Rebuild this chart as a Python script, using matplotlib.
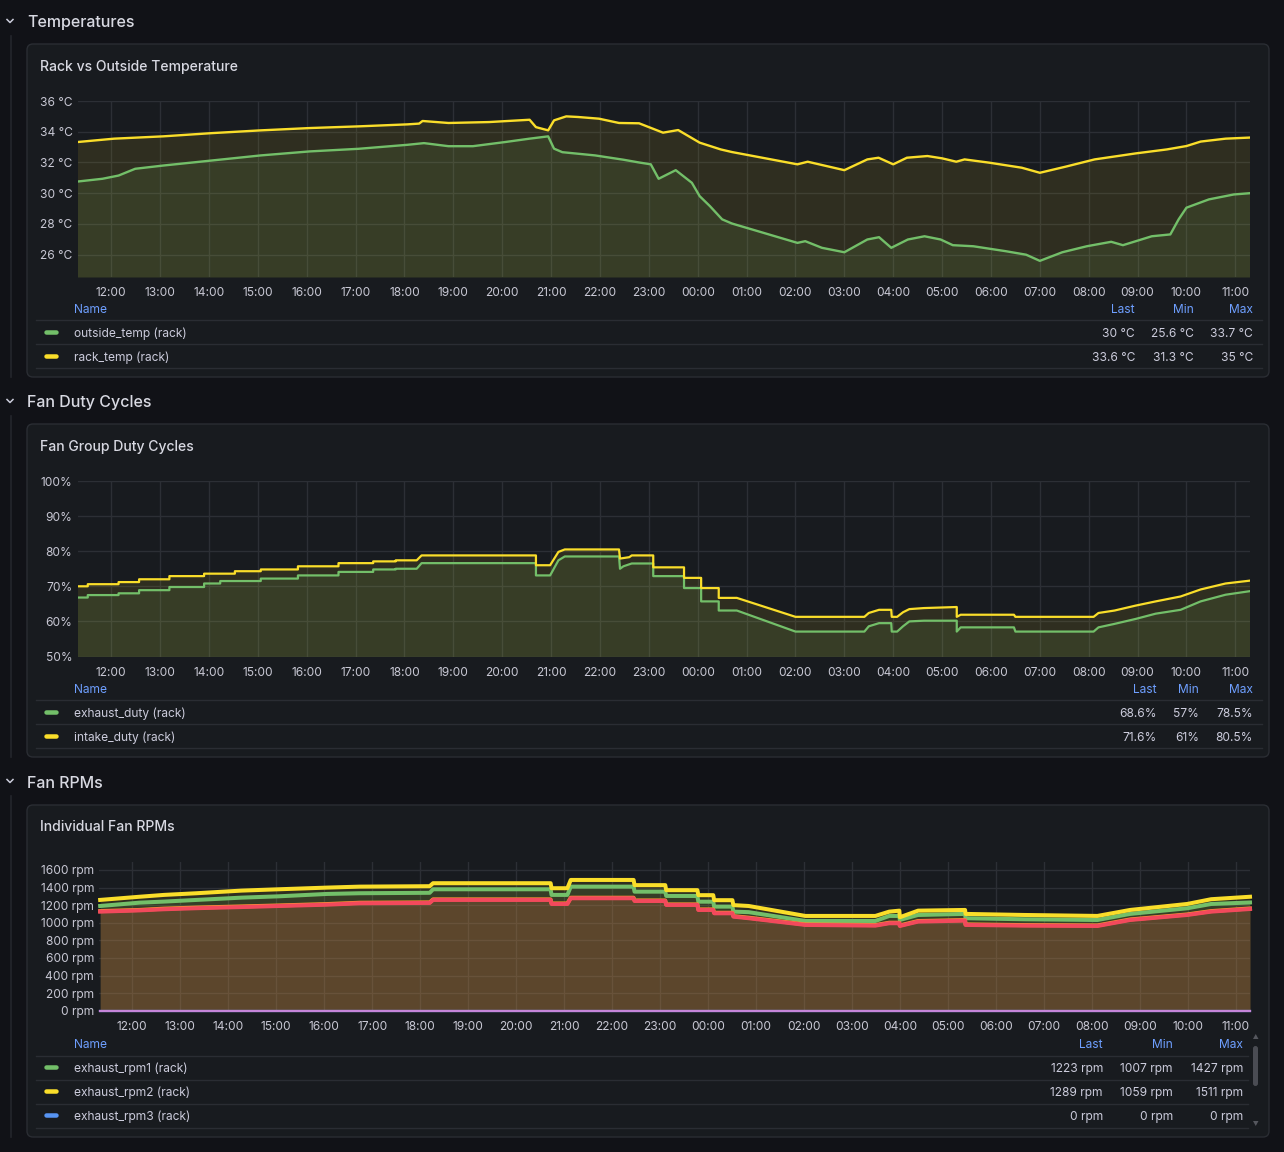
import matplotlib
matplotlib.use("Agg")
import matplotlib.pyplot as plt
from matplotlib.patches import FancyBboxPatch, Polygon
from matplotlib.lines import Line2D
from matplotlib.transforms import IdentityTransform

# ---------------- DATA (time in hours since 00:00 of day 1; >24 = next day) ----------------
hour_ticks = list(range(12, 36))
hour_labels = [f"{h % 24:02d}:00" for h in hour_ticks]

# Panel 1: Rack vs Outside Temperature
outside_t = [11.31, 11.82, 12.15, 12.49, 13.06, 14.06, 15.06, 16.06, 17.06, 18.06, 18.4, 18.9, 19.4,
             20.06, 20.56, 20.94, 21.06, 21.23, 21.9, 22.48, 22.8, 23.04, 23.2, 23.55, 23.88, 24.04,
             24.25, 24.5, 24.7, 26.04, 26.2, 26.54, 27.0, 27.47, 27.71, 27.96, 28.3, 28.64, 28.97,
             29.22, 29.64, 30.3, 30.72, 31.0, 31.46, 31.96, 32.46, 32.7, 33.29, 33.67, 33.84, 34.0,
             34.46, 34.97, 35.29]
outside_temp = [30.76, 30.94, 31.15, 31.59, 31.8, 32.13, 32.46, 32.72, 32.89, 33.15, 33.26, 33.06, 33.06,
                33.33, 33.55, 33.7, 32.9, 32.67, 32.46, 32.18, 32.0, 31.88, 30.94, 31.5, 30.68, 29.81,
                29.16, 28.3, 28.03, 26.77, 26.88, 26.45, 26.16, 26.99, 27.14, 26.45, 26.99, 27.2, 26.99,
                26.62, 26.55, 26.23, 26.0, 25.6, 26.16, 26.55, 26.84, 26.62, 27.2, 27.32, 28.3, 29.06,
                29.6, 29.92, 30.0]
rack_t = [11.31, 12.06, 13.06, 14.06, 15.06, 16.06, 17.06, 18.06, 18.3, 18.37, 18.9, 19.73, 20.56, 20.69,
          20.94, 21.06, 21.31, 21.55, 21.98, 22.39, 22.8, 23.29, 23.6, 24.04, 24.47, 24.7, 26.04, 26.25,
          27.0, 27.47, 27.7, 28.0, 28.28, 28.7, 29.0, 29.29, 29.46, 29.96, 30.63, 31.0, 31.53, 32.12,
          32.96, 33.6, 34.0, 34.29, 34.8, 35.29]
rack_temp = [33.33, 33.55, 33.7, 33.91, 34.09, 34.24, 34.35, 34.48, 34.53, 34.7, 34.57, 34.63, 34.78, 34.3,
             34.09, 34.74, 35.0, 34.96, 34.85, 34.57, 34.55, 33.94, 34.11, 33.29, 32.85, 32.68, 31.88, 32.05,
             31.5, 32.2, 32.31, 31.88, 32.31, 32.42, 32.27, 32.05, 32.2, 31.99, 31.66, 31.33, 31.73, 32.2,
             32.59, 32.85, 33.07, 33.36, 33.55, 33.62]
temp_names = ["outside_temp (rack)", "rack_temp (rack)"]
temp_last = ["30 °C", "33.6 °C"]
temp_min = ["25.6 °C", "31.3 °C"]
temp_max = ["33.7 °C", "35 °C"]

# Panel 2: Fan Group Duty Cycles (%)
exhaust_t = [11.31, 11.52, 11.52, 12.15, 12.15, 12.57, 12.57, 13.19, 13.19, 13.9, 13.9, 14.23, 14.23,
             15.06, 15.06, 15.82, 15.82, 16.65, 16.65, 17.36, 17.36, 17.82, 17.82, 18.25, 18.35, 20.69,
             20.69, 20.98, 21.15, 21.28, 22.39, 22.41, 22.48, 22.65, 23.09, 23.09, 23.72, 23.72, 24.07,
             24.07, 24.43, 24.43, 24.8, 26.0, 27.41, 27.5, 27.71, 27.96, 27.97, 28.08, 28.2, 28.33, 28.63,
             29.3, 29.3, 29.38, 30.47, 30.5, 32.1, 32.2, 32.53, 32.96, 33.37, 33.88, 34.29, 34.8, 35.29]
exhaust_duty = [66.8, 66.8, 67.5, 67.5, 68.0, 68.0, 68.9, 68.9, 69.8, 69.8, 70.8, 70.8, 71.5,
                71.5, 72.2, 72.2, 73.1, 73.1, 74.1, 74.1, 74.8, 74.8, 75.0, 75.0, 76.6, 76.6,
                73.1, 73.1, 77.4, 78.5, 78.5, 75.0, 75.7, 76.5, 76.5, 72.9, 72.9, 69.5, 69.5,
                65.7, 65.7, 63.1, 63.1, 57.1, 57.1, 58.6, 59.5, 59.5, 57.1, 57.1, 58.6, 60.0, 60.2,
                60.2, 57.1, 58.3, 58.3, 57.1, 57.1, 58.3, 59.3, 60.7, 62.2, 63.3, 65.7, 67.6, 68.6]
intake_t = [11.31, 11.52, 11.52, 12.15, 12.15, 12.57, 12.57, 13.19, 13.19, 13.9, 13.9, 14.53, 14.53,
            15.06, 15.06, 15.82, 15.82, 16.65, 16.65, 17.36, 17.36, 17.82, 17.82, 18.25, 18.35, 20.69,
            20.69, 20.98, 21.15, 21.28, 22.39, 22.41, 22.6, 22.65, 23.09, 23.09, 23.72, 23.72, 24.07,
            24.07, 24.43, 24.43, 24.8, 26.0, 27.41, 27.5, 27.71, 27.96, 27.97, 28.08, 28.2, 28.33, 28.63,
            29.3, 29.3, 29.38, 30.47, 30.5, 32.1, 32.2, 32.53, 32.96, 33.37, 33.88, 34.29, 34.8, 35.29]
intake_duty = [70.0, 70.0, 70.6, 70.6, 71.2, 71.2, 72.0, 72.0, 72.9, 72.9, 73.6, 73.6, 74.3,
               74.3, 74.8, 74.8, 75.7, 75.7, 76.6, 76.6, 77.1, 77.1, 77.4, 77.4, 78.8, 78.8,
               76.0, 76.0, 79.8, 80.5, 80.5, 77.9, 78.3, 78.8, 78.8, 75.4, 75.4, 72.4, 72.4,
               69.5, 69.5, 66.7, 66.7, 61.3, 61.3, 62.4, 63.3, 63.3, 61.3, 61.3, 62.6, 63.5, 63.8,
               64.1, 61.3, 61.9, 61.9, 61.3, 61.3, 62.4, 63.1, 64.5, 65.7, 67.1, 69.1, 70.8, 71.6]
duty_names = ["exhaust_duty (rack)", "intake_duty (rack)"]
duty_last = ["68.6%", "71.6%"]
duty_min = ["57%", "61%"]
duty_max = ["78.5%", "80.5%"]

# Panel 3: Individual Fan RPMs
rpm_t = [11.33, 12.15, 12.66, 13.34, 14.28, 15.05, 16.06, 16.74, 18.2, 18.27, 20.72, 20.74, 21.07, 21.14,
         22.45, 22.47, 23.11, 23.13, 23.78, 23.8, 24.11, 24.13, 24.51, 24.53, 24.85, 26.03, 27.49,
         27.78, 27.99, 28.0, 28.38, 29.36, 29.37, 30.59, 32.12, 32.8, 33.99, 34.49, 35.3]
rpm1 = [1190, 1228, 1240, 1259, 1285, 1300, 1327, 1335, 1340, 1380, 1380, 1316, 1316, 1410,
        1410, 1353, 1353, 1304, 1304, 1239, 1239, 1183, 1183, 1126, 1120, 1020, 1020,
        1077, 1077, 1031, 1088, 1100, 1051, 1039, 1031, 1100, 1164, 1213, 1230]
rpm2 = [1259, 1295, 1316, 1335, 1365, 1380, 1399, 1410, 1415, 1449, 1449, 1392, 1392, 1486,
        1486, 1427, 1427, 1370, 1370, 1313, 1313, 1256, 1256, 1200, 1190, 1077, 1077,
        1126, 1137, 1062, 1137, 1145, 1100, 1088, 1077, 1145, 1213, 1267, 1295]
rpm3 = [0, 0, 0, 0, 0, 0, 0, 0, 0, 0, 0, 0, 0, 0, 0, 0, 0, 0, 0, 0, 0, 0, 0, 0, 0, 0, 0,
        0, 0, 0, 0, 0, 0, 0, 0, 0, 0, 0, 0]
rpm4 = [1132, 1145, 1160, 1172, 1185, 1196, 1212, 1227, 1231, 1265, 1265, 1219, 1219, 1284,
        1284, 1253, 1253, 1208, 1208, 1151, 1151, 1113, 1113, 1075, 1057, 981, 973,
        1000, 1000, 969, 1019, 1030, 981, 973, 969, 1037, 1094, 1132, 1162]
rpm5 = [1126, 1140, 1153, 1165, 1178, 1190, 1205, 1221, 1225, 1259, 1259, 1213, 1213, 1278,
        1278, 1247, 1247, 1202, 1202, 1145, 1145, 1107, 1107, 1069, 1051, 975, 967,
        994, 994, 963, 1013, 1024, 975, 967, 963, 1031, 1088, 1126, 1156]
rpm6 = [0, 0, 0, 0, 0, 0, 0, 0, 0, 0, 0, 0, 0, 0, 0, 0, 0, 0, 0, 0, 0, 0, 0, 0, 0, 0, 0,
        0, 0, 0, 0, 0, 0, 0, 0, 0, 0, 0, 0]
rpm_names = ["exhaust_rpm1 (rack)", "exhaust_rpm2 (rack)", "exhaust_rpm3 (rack)",
             "exhaust_rpm4 (rack)", "exhaust_rpm5 (rack)", "exhaust_rpm6 (rack)"]
rpm_last = ["1223 rpm", "1289 rpm", "0 rpm"]
rpm_min = ["1007 rpm", "1059 rpm", "0 rpm"]
rpm_max = ["1427 rpm", "1511 rpm", "0 rpm"]

# ---------------- STYLE ----------------
W, H = 1284, 1152
BG = "#111217"
PANEL = "#181b1f"
BORDER = "#2a2d33"
GRID = "#2c2f35"
TXT = "#ccccdc"
BLUE_TXT = "#6e9fff"
GREEN = "#73bf69"
YELLOW = "#fade2a"
BLUE = "#5794f2"
ORANGE = "#ff9830"
RED = "#f2495c"
PURPLE = "#c585d8"
DY = 2  # text baseline correction (px)

plt.rcParams['font.family'] = ['Inter', 'DejaVu Sans']
fig = plt.figure(figsize=(W / 100, H / 100), dpi=100)
fig.patch.set_facecolor(BG)
IT = IdentityTransform()


def P(px):
    return px * 0.72


def text(x, y, s, size=12, color=TXT, ha='left', weight='normal'):
    fig.text(x, H - y - DY, s, transform=IT, fontsize=P(size), color=color, ha=ha, va='center',
             fontweight=weight, zorder=5)


def hline(x0, x1, y, color, lw=1.0):
    fig.add_artist(Line2D([x0, x1], [H - y, H - y], transform=IT, color=color, lw=lw, zorder=-5))


def panel_box(x0, y0, x1, y1):
    p = FancyBboxPatch((x0, H - y1), x1 - x0, y1 - y0,
                       boxstyle="round,pad=0,rounding_size=6", transform=IT,
                       facecolor=PANEL, edgecolor=BORDER, lw=1.0, zorder=-10)
    fig.add_artist(p)


def row_header(y, label, line_top, line_bot):
    fig.add_artist(Line2D([7, 10, 13], [H - (y - 1.5), H - (y + 1.5), H - (y - 1.5)], transform=IT,
                          color=TXT, lw=1.1))
    text(27, y, label, size=16, color="#d8d9e2", weight='medium')
    fig.add_artist(Line2D([11, 11], [H - line_top, H - line_bot], transform=IT, color="#24262c",
                          lw=1.2, zorder=-10))


def make_ax(l, t, r, b, ylim, yticks, yfmt):
    ax = fig.add_axes([l / W, 1 - b / H, (r - l) / W, (b - t) / H])
    ax.set_zorder(2)
    ax.set_facecolor('none')
    ax.set_xlim(11.31, 35.3)
    ax.set_ylim(*ylim)
    for s in ax.spines.values():
        s.set_visible(False)
    ax.set_xticks(hour_ticks)
    ax.set_xticklabels(hour_labels)
    ax.set_yticks(yticks)
    ax.set_yticklabels([yfmt(v) for v in yticks])
    ax.tick_params(axis='both', length=0, colors="#c8c8d4", labelsize=P(12))
    ax.tick_params(axis='x', pad=P(10))
    ax.tick_params(axis='y', pad=P(5))
    ax.grid(True, color=GRID, lw=1.0, alpha=1.0)
    ax.set_axisbelow(True)
    return ax


def legend(y_head, rows, names, colors, lasts, mins, maxs, xcols, sep_ys, sep_right=1262):
    text(74, y_head, "Name", color=BLUE_TXT)
    for lab, xc in zip(["Last", "Min", "Max"], xcols):
        text(xc, y_head, lab, color=BLUE_TXT, ha='right')
    for sy in sep_ys:
        hline(36, sep_right, sy, "#2a2d33")
    for ry, n, c, la, mi, ma in zip(rows, names, colors, lasts, mins, maxs):
        fig.add_artist(Line2D([46, 56], [H - ry, H - ry], transform=IT, color=c, lw=P(4.5),
                              solid_capstyle='round'))
        text(74, ry, n)
        for v, xc in zip([la, mi, ma], xcols):
            text(xc, ry, v, ha='right')


# ---------------- PANEL 1 ----------------
row_header(21, "Temperatures", 36, 377)
panel_box(27, 44, 1269, 377)
text(40, 65, "Rack vs Outside Temperature", size=14, color="#d8d9e2", weight='medium')
ax1 = make_ax(77.5, 101, 1250, 277, (24.55, 36), [26, 28, 30, 32, 34, 36], lambda v: f"{v} °C")
for t, v, c in [(outside_t, outside_temp, GREEN), (rack_t, rack_temp, YELLOW)]:
    ax1.fill_between(t, v, 24.55, color=c, alpha=0.1, lw=0)
for t, v, c in [(outside_t, outside_temp, GREEN), (rack_t, rack_temp, YELLOW)]:
    ax1.plot(t, v, color=c, lw=1.7, solid_joinstyle='round')
legend(308, [332, 356], temp_names, [GREEN, YELLOW], temp_last, temp_min, temp_max,
       [1135, 1194, 1253], [320, 344, 368])

# ---------------- PANEL 2 ----------------
row_header(401, "Fan Duty Cycles", 416, 757)
panel_box(27, 424, 1269, 757)
text(40, 445, "Fan Group Duty Cycles", size=14, color="#d8d9e2", weight='medium')
ax2 = make_ax(77.5, 481, 1250, 656.5, (50, 100), [50, 60, 70, 80, 90, 100], lambda v: f"{v}%")
for t, v, c in [(exhaust_t, exhaust_duty, GREEN), (intake_t, intake_duty, YELLOW)]:
    ax2.fill_between(t, v, 50, color=c, alpha=0.1, lw=0)
for t, v, c in [(exhaust_t, exhaust_duty, GREEN), (intake_t, intake_duty, YELLOW)]:
    ax2.plot(t, v, color=c, lw=1.6)
legend(688, [712, 736], duty_names, [GREEN, YELLOW], duty_last, duty_min, duty_max,
       [1157, 1199, 1253], [700, 724, 748])

# ---------------- PANEL 3 ----------------
row_header(781, "Fan RPMs", 796, 1137)
panel_box(27, 805, 1269, 1137)
text(40, 825, "Individual Fan RPMs", size=14, color="#d8d9e2", weight='medium')
ax3 = make_ax(99.2, 862, 1250, 1010.7, (0, 1690), list(range(0, 1601, 200)), lambda v: f"{v} rpm")
rpm_series = [rpm1, rpm2, rpm3, rpm4, rpm5, rpm6]
rpm_colors = [GREEN, YELLOW, BLUE, ORANGE, RED, PURPLE]
rpm_lw = [2.9, 2.9, 1.6, 2.9, 2.9, 1.6]
for v, c in zip(rpm_series, rpm_colors):
    ax3.fill_between(rpm_t, v, 0, color=c, alpha=0.1, lw=0)
for v, c, lw in zip(rpm_series, rpm_colors, rpm_lw):
    ax3.plot(rpm_t, v, color=c, lw=lw, clip_on=False)
legend(1043, [1067, 1091, 1115], rpm_names[:3], rpm_colors[:3], rpm_last, rpm_min, rpm_max,
       [1103, 1173, 1243], [1056, 1080, 1104, 1128], sep_right=1248)
# scrollbar
fig.add_artist(FancyBboxPatch((1253, H - 1086), 5, 40, boxstyle="round,pad=0,rounding_size=2.5",
                              transform=IT, facecolor="#4a4c53", edgecolor='none'))
fig.add_artist(Polygon([[1253, H - 1039], [1258.5, H - 1039], [1255.75, H - 1034]], closed=True,
                       transform=IT, facecolor="#55575e", edgecolor='none'))
fig.add_artist(Polygon([[1253, H - 1121], [1258.5, H - 1121], [1255.75, H - 1126]], closed=True,
                       transform=IT, facecolor="#55575e", edgecolor='none'))

fig.savefig("out.png", dpi=100, facecolor=BG)
